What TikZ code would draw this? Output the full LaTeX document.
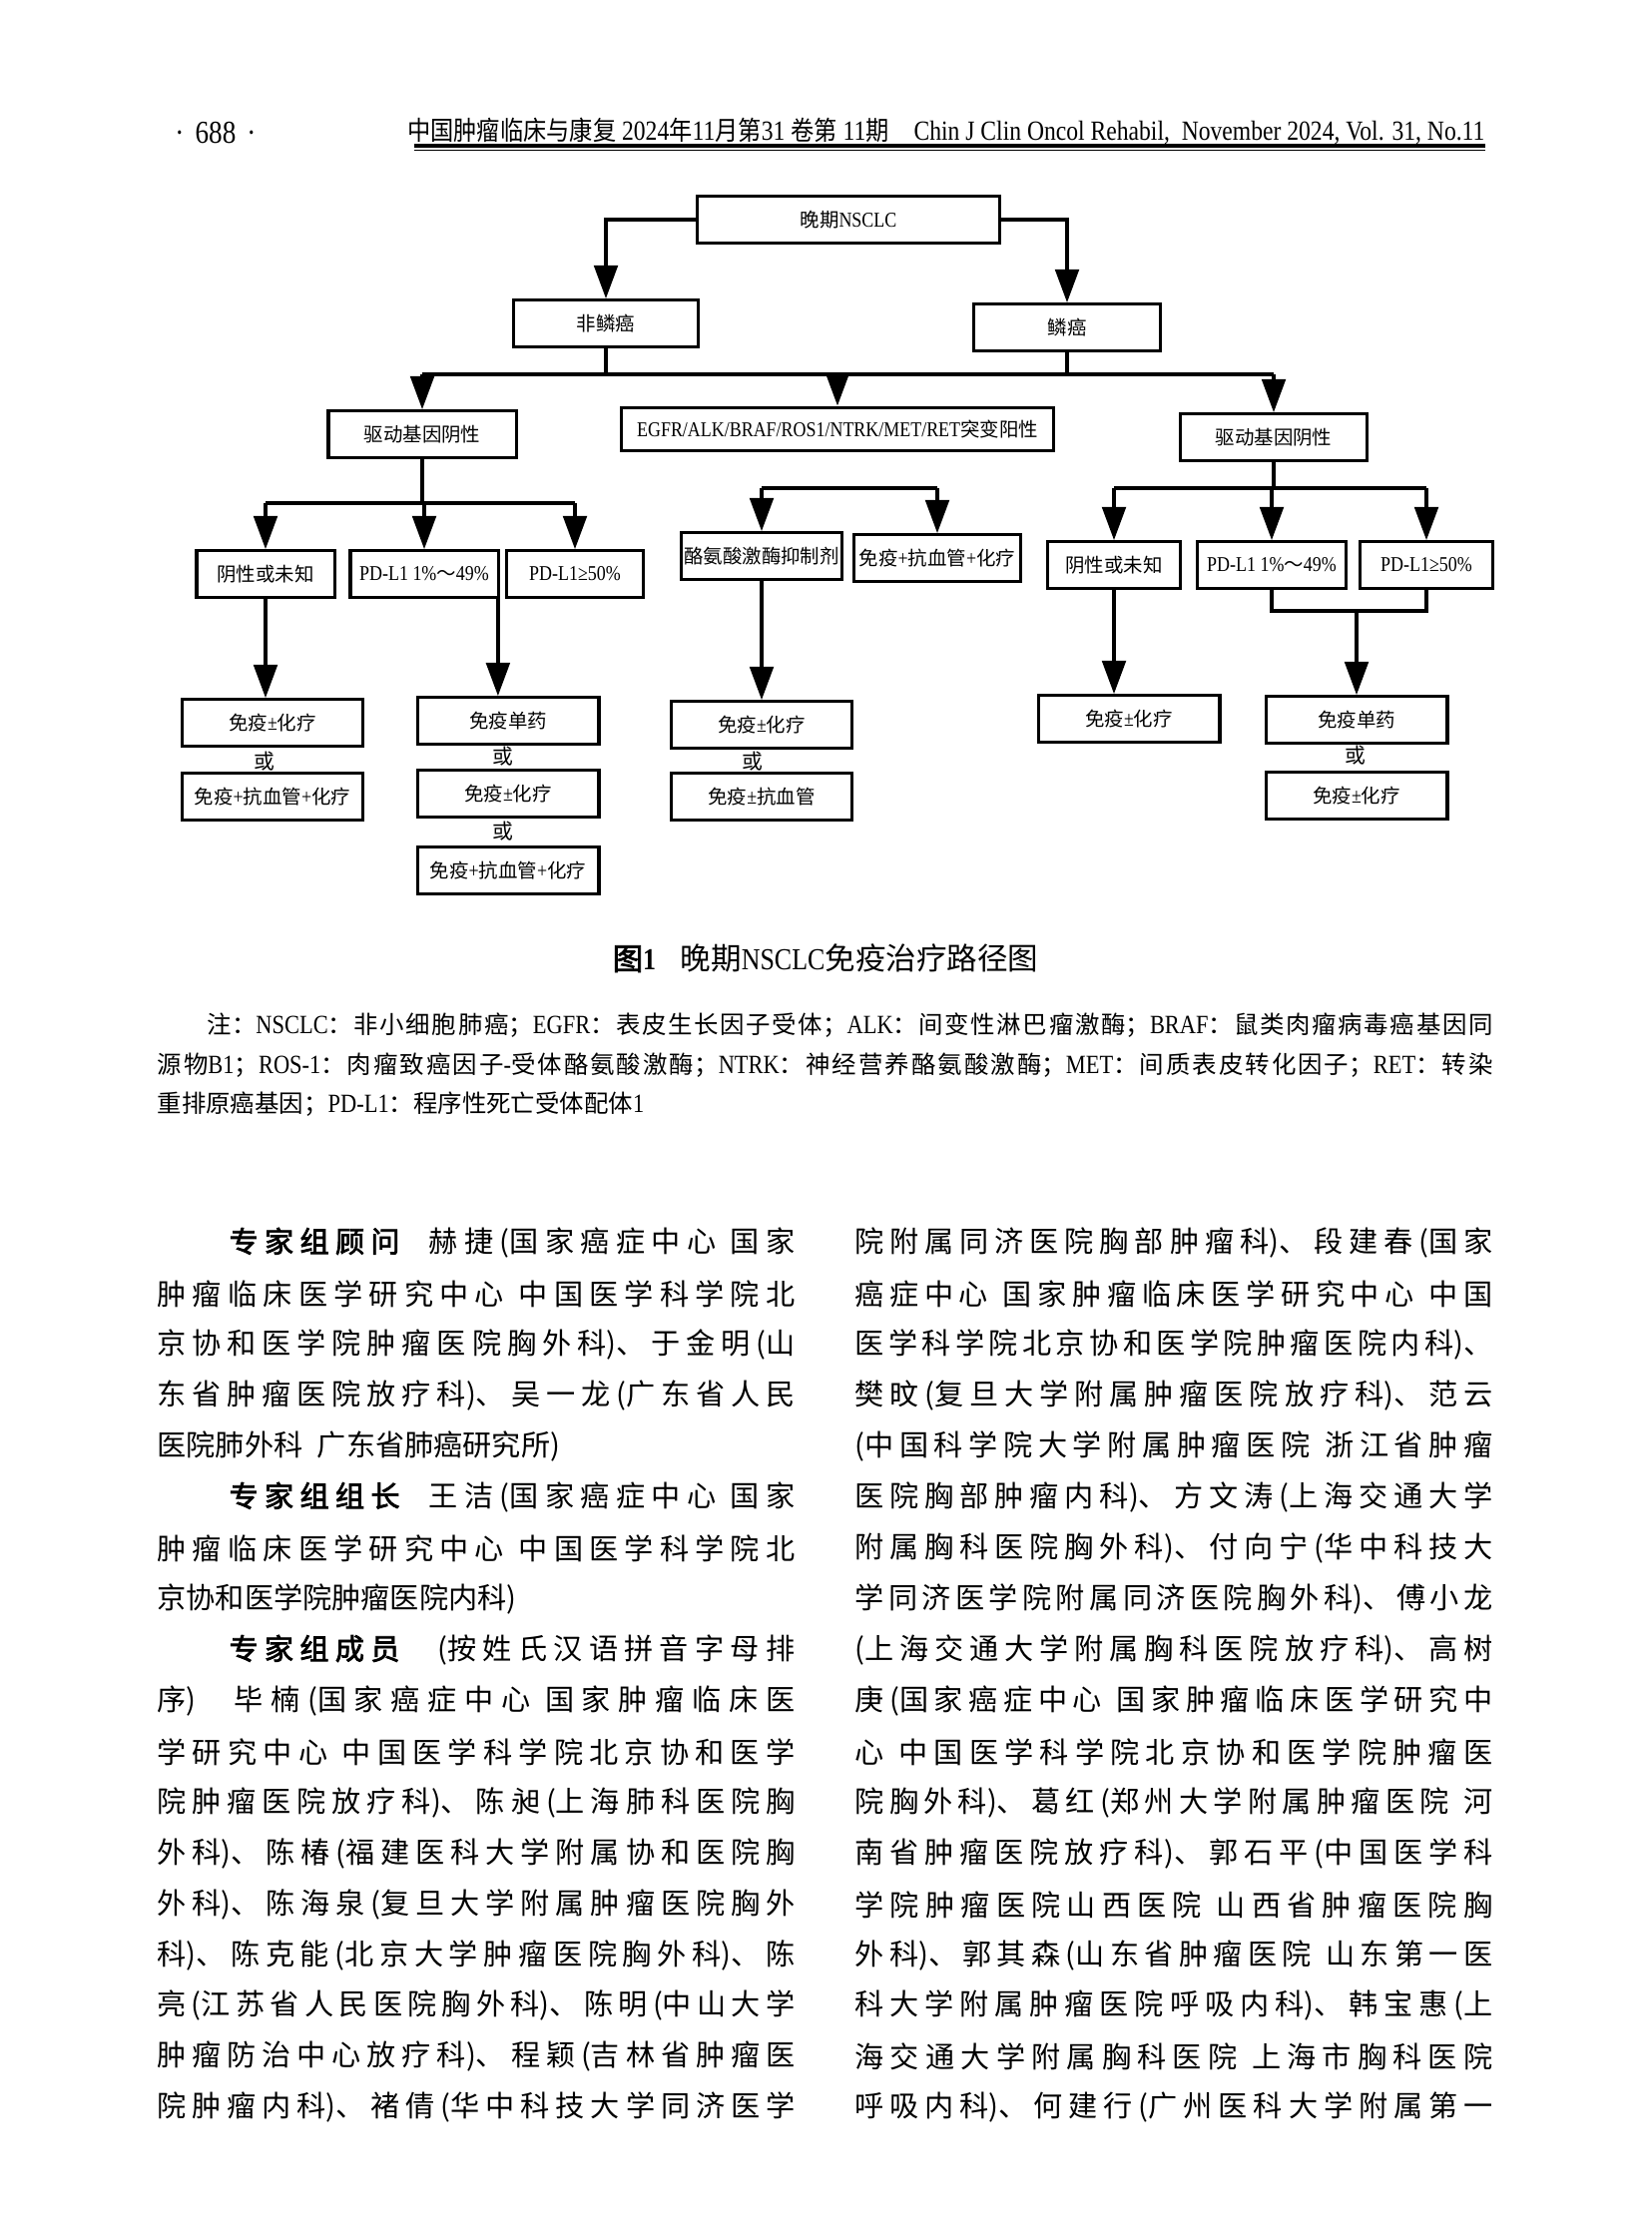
\documentclass[tikz,border=0pt]{standalone}
\usepackage{fontspec}
\setmainfont{Liberation Serif}
\newfontfamily\cjk{Noto Sans CJK SC}
\newfontfamily\cjkb{Noto Sans CJK SC}[FakeBold=2.5]
\newfontfamily\cjkc{Noto Sans CJK SC}[FakeStretch=0.88]
\newfontfamily\latc{Liberation Serif}[FakeStretch=0.85]
\usetikzlibrary{arrows.meta}

\XeTeXlinebreaklocale "zh"
\XeTeXlinebreakskip=0pt plus 4pt

\newcommand\zh[1]{{\cjk#1}}
\newcommand\bz[1]{{\cjk\fontsize{7}{8}\selectfont#1}}
\newcommand\nz[1]{{\cjk\fontsize{8.8}{10}\selectfont#1}}
\newcommand\hz[1]{{\cjkc\fontsize{9.5}{12}\selectfont#1}}
\newcommand\jline[1]{\noindent\parfillskip=0pt\relax#1\par}
\newcommand\gap{\hspace{0.5em}}

\tikzset{
  stepbox/.style={draw, line width=1.1pt, inner sep=1pt, minimum height=16.8pt,
    font=\latc\fontsize{7.6}{9}\selectfont},
  link/.style={line width=1.3pt},
  conn/.style={line width=1.3pt, -{Triangle[length=12pt, width=8.5pt]}},
  ornode/.style={inner sep=0pt, font=\cjk\fontsize{7.5}{9}\selectfont},
  noteline/.style={anchor=west, inner sep=0pt, text width=481.7pt, align=justify,
    font=\latc\fontsize{9.5}{11}\selectfont},
  bodyline/.style={anchor=west, inner sep=0pt, text width=230pt, align=justify,
    font=\cjk\fontsize{10.5}{12}\selectfont},
}

\begin{document}
\begin{tikzpicture}[x=0.36pt, y=-0.36pt]
\useasboundingbox (0,0) rectangle (1654,2244);

% running head
\node[inner sep=0pt, font=\latc\fontsize{11.5}{13}\selectfont] (pgno) at (216,133) {·\hspace{4pt}688\hspace{4pt}·};
\node[anchor=east, inner sep=0pt, font=\latc\fontsize{10}{12}\selectfont] (jtitle) at (1488,131)
  {\hz{中国肿瘤临床与康复} 2024\hz{年}11\hz{月第}31 \hz{卷第} 11\hz{期}\hspace{9pt}Chin J Clin Oncol Rehabil,\ \ November 2024, Vol. 31, No.11};
\draw[line width=1.2pt] (415,146) -- (1488,146);
\draw[line width=0.4pt] (415,150.5) -- (1488,150.5);

% figure 1
\node[stepbox, minimum width=109.4pt, minimum height=16.6pt] (nsclc) at (850,220) {\bz{晚期}NSCLC};
\node[stepbox, minimum width=66.6pt] (nonsq) at (607,324) {\bz{非鳞癌}};
\node[stepbox, minimum width=67.3pt] (sq) at (1069,328) {\bz{鳞癌}};
\node[stepbox, minimum width=67.7pt] (drvL) at (423,435) {\bz{驱动基因阴性}};
\node[stepbox, minimum width=156.2pt, minimum height=15.8pt] (egfr) at (839,430) {EGFR/ALK/BRAF/ROS1/NTRK/MET/RET\bz{突变阳性}};
\node[stepbox, minimum width=67.3pt] (drvR) at (1276,438) {\bz{驱动基因阴性}};
\node[stepbox, minimum width=49.7pt] (negL) at (266,575) {\bz{阴性或未知}};
\node[stepbox, minimum width=53.3pt] (pd1L) at (425,575) {PD-L1 1\%\bz{～}49\%};
\node[stepbox, minimum width=49pt] (pd50L) at (576,575) {PD-L1≥50\%};
\node[stepbox, minimum width=58pt] (tki) at (763,557) {\bz{酪氨酸激酶抑制剂}};
\node[stepbox, minimum width=59.8pt] (iacM) at (939,559) {\bz{免疫}+\bz{抗血管}+\bz{化疗}};
\node[stepbox, minimum width=48.2pt] (negR) at (1116,566) {\bz{阴性或未知}};
\node[stepbox, minimum width=53.6pt] (pd1R) at (1274,566) {PD-L1 1\%\bz{～}49\%};
\node[stepbox, minimum width=47.9pt] (pd50R) at (1429,566) {PD-L1≥50\%};

\node[stepbox, minimum width=65.2pt] (icL) at (273,724) {\bz{免疫}±\bz{化疗}};
\node[ornode] (orL) at (265,763) {或};
\node[stepbox, minimum width=65.2pt] (iacL) at (273,798) {\bz{免疫}+\bz{抗血管}+\bz{化疗}};
\node[stepbox, minimum width=65.5pt] (imL) at (509,722) {\bz{免疫单药}};
\node[ornode] (orL2) at (504,758) {或};
\node[stepbox, minimum width=65.5pt] (icL2) at (509,795) {\bz{免疫}±\bz{化疗}};
\node[ornode] (orL3) at (504,833) {或};
\node[stepbox, minimum width=65.5pt] (iacL2) at (509,872) {\bz{免疫}+\bz{抗血管}+\bz{化疗}};
\node[stepbox, minimum width=65.2pt] (icM) at (763,726) {\bz{免疫}±\bz{化疗}};
\node[ornode] (orM) at (754,763) {或};
\node[stepbox, minimum width=65.2pt] (iaM) at (763,798) {\bz{免疫}±\bz{抗血管}};
\node[stepbox, minimum width=65.5pt] (icR) at (1131,720) {\bz{免疫}±\bz{化疗}};
\node[stepbox, minimum width=65.5pt] (imR) at (1359,721) {\bz{免疫单药}};
\node[ornode] (orR) at (1358,757) {或};
\node[stepbox, minimum width=65.5pt] (icR2) at (1359,797) {\bz{免疫}±\bz{化疗}};

\coordinate (bar1) at (0,375);
\coordinate (bar2) at (0,504);
\coordinate (bar3) at (0,489);
\coordinate (bar5) at (0,612);

\draw[conn] (nsclc.west) -| (nonsq.north);
\draw[conn] (nsclc.east) -| (sq.north);
\draw[link] (nonsq.south) -- (nonsq.south |- bar1);
\draw[link] (sq.south) -- (sq.south |- bar1);
\draw[link] (drvL.north |- bar1) -- (drvR.north |- bar1);
\draw[conn] (drvL.north |- bar1) -- (drvL.north);
\draw[conn] (egfr.north |- bar1) -- (egfr.north);
\draw[conn] (drvR.north |- bar1) -- (drvR.north);

\draw[link] (drvL.south) -- (drvL.south |- bar2);
\draw[link] (negL.north |- bar2) -- (pd50L.north |- bar2);
\draw[conn] (negL.north |- bar2) -- (negL.north);
\draw[conn] (pd1L.north |- bar2) -- (pd1L.north);
\draw[conn] (pd50L.north |- bar2) -- (pd50L.north);

\draw[link] (tki.north |- bar3) -- (iacM.north |- bar3);
\draw[conn] (tki.north |- bar3) -- (tki.north);
\draw[conn] (iacM.north |- bar3) -- (iacM.north);

\draw[link] (drvR.south) -- (drvR.south |- bar3);
\draw[link] (negR.north |- bar3) -- (pd50R.north |- bar3);
\draw[conn] (negR.north |- bar3) -- (negR.north);
\draw[conn] (pd1R.north |- bar3) -- (pd1R.north);
\draw[conn] (pd50R.north |- bar3) -- (pd50R.north);

\draw[conn] (negL.south) -- (negL.south |- icL.north);
\draw[conn] ([xshift=-0.6pt]pd1L.south east) -- ([xshift=-0.6pt]pd1L.south east |- imL.north);
\draw[conn] (tki.south) -- (tki.south |- icM.north);
\draw[conn] (negR.south) -- (negR.south |- icR.north);
\draw[link] (pd1R.south) -- (pd1R.south |- bar5) -- (pd50R.south |- bar5) -- (pd50R.south);
\draw[conn] (imR.north |- bar5) -- (imR.north);

% caption and note
\node[inner sep=0pt, font=\latc\fontsize{11}{13}\selectfont] (cap) at (827,960)
  {{\cjkb 图}{\bfseries 1}\hspace{0.8em}\zh{晚期}NSCLC\zh{免疫治疗路径图}};
\node[noteline] (note1) at (157,1027) {\jline{\hspace*{18pt}\nz{注：}NSCLC\nz{：非小细胞肺癌；}EGFR\nz{：表皮生长因子受体；}ALK\nz{：间变性淋巴瘤激酶；}BRAF\nz{：鼠类肉瘤病毒癌基因同}}};
\node[noteline] (note2) at (157,1067) {\jline{\nz{源物}B1\nz{；}ROS-1\nz{：肉瘤致癌因子}-\nz{受体酪氨酸激酶；}NTRK\nz{：神经营养酪氨酸激酶；}MET\nz{：间质表皮转化因子；}RET\nz{：转染}}};
\node[noteline] (note3) at (157,1106) {\nz{重排原癌基因；}PD-L1\nz{：程序性死亡受体配体}1};

% left column
\node[bodyline] (l1) at (157,1245) {\jline{\hspace*{25.9pt}{\cjkb 专家组顾问}\hspace{1em}赫捷(国家癌症中心\gap 国家}};
\node[bodyline] (l2) at (157,1296) {\jline{肿瘤临床医学研究中心\gap 中国医学科学院北}};
\node[bodyline] (l3) at (157,1347) {\jline{京协和医学院肿瘤医院胸外科)、于金明(山}};
\node[bodyline] (l4) at (157,1398) {\jline{东省肿瘤医院放疗科)、吴一龙(广东省人民}};
\node[bodyline] (l5) at (157,1449) {医院肺外科\gap 广东省肺癌研究所)};
\node[bodyline] (l6) at (157,1500) {\jline{\hspace*{25.9pt}{\cjkb 专家组组长}\hspace{1em}王洁(国家癌症中心\gap 国家}};
\node[bodyline] (l7) at (157,1551) {\jline{肿瘤临床医学研究中心\gap 中国医学科学院北}};
\node[bodyline] (l8) at (157,1602) {京协和医学院肿瘤医院内科)};
\node[bodyline] (l9) at (157,1653) {\jline{\hspace*{25.9pt}{\cjkb 专家组成员}\hspace{1.3em}(按姓氏汉语拼音字母排}};
\node[bodyline] (l10) at (157,1704) {\jline{序)\hspace{1.3em}毕楠(国家癌症中心\gap 国家肿瘤临床医}};
\node[bodyline] (l11) at (157,1755) {\jline{学研究中心\gap 中国医学科学院北京协和医学}};
\node[bodyline] (l12) at (157,1806) {\jline{院肿瘤医院放疗科)、陈昶(上海肺科医院胸}};
\node[bodyline] (l13) at (157,1857) {\jline{外科)、陈椿(福建医科大学附属协和医院胸}};
\node[bodyline] (l14) at (157,1908) {\jline{外科)、陈海泉(复旦大学附属肿瘤医院胸外}};
\node[bodyline] (l15) at (157,1959) {\jline{科)、陈克能(北京大学肿瘤医院胸外科)、陈}};
\node[bodyline] (l16) at (157,2009) {\jline{亮(江苏省人民医院胸外科)、陈明(中山大学}};
\node[bodyline] (l17) at (157,2060) {\jline{肿瘤防治中心放疗科)、程颖(吉林省肿瘤医}};
\node[bodyline] (l18) at (157,2111) {\jline{院肿瘤内科)、褚倩(华中科技大学同济医学}};

% right column
\node[bodyline] (r1) at (856,1245) {\jline{院附属同济医院胸部肿瘤科)、段建春(国家}};
\node[bodyline] (r2) at (856,1296) {\jline{癌症中心\gap 国家肿瘤临床医学研究中心\gap 中国}};
\node[bodyline] (r3) at (856,1347) {\jline{医学科学院北京协和医学院肿瘤医院内科)、}};
\node[bodyline] (r4) at (856,1398) {\jline{樊旼(复旦大学附属肿瘤医院放疗科)、范云}};
\node[bodyline] (r5) at (856,1449) {\jline{(中国科学院大学附属肿瘤医院\gap 浙江省肿瘤}};
\node[bodyline] (r6) at (856,1500) {\jline{医院胸部肿瘤内科)、方文涛(上海交通大学}};
\node[bodyline] (r7) at (856,1551) {\jline{附属胸科医院胸外科)、付向宁(华中科技大}};
\node[bodyline] (r8) at (856,1602) {\jline{学同济医学院附属同济医院胸外科)、傅小龙}};
\node[bodyline] (r9) at (856,1653) {\jline{(上海交通大学附属胸科医院放疗科)、高树}};
\node[bodyline] (r10) at (856,1704) {\jline{庚(国家癌症中心\gap 国家肿瘤临床医学研究中}};
\node[bodyline] (r11) at (856,1755) {\jline{心\gap 中国医学科学院北京协和医学院肿瘤医}};
\node[bodyline] (r12) at (856,1806) {\jline{院胸外科)、葛红(郑州大学附属肿瘤医院\gap 河}};
\node[bodyline] (r13) at (856,1857) {\jline{南省肿瘤医院放疗科)、郭石平(中国医学科}};
\node[bodyline] (r14) at (856,1908) {\jline{学院肿瘤医院山西医院\gap 山西省肿瘤医院胸}};
\node[bodyline] (r15) at (856,1959) {\jline{外科)、郭其森(山东省肿瘤医院\gap 山东第一医}};
\node[bodyline] (r16) at (856,2009) {\jline{科大学附属肿瘤医院呼吸内科)、韩宝惠(上}};
\node[bodyline] (r17) at (856,2060) {\jline{海交通大学附属胸科医院\gap 上海市胸科医院}};
\node[bodyline] (r18) at (856,2111) {\jline{呼吸内科)、何建行(广州医科大学附属第一}};
\end{tikzpicture}
\end{document}
